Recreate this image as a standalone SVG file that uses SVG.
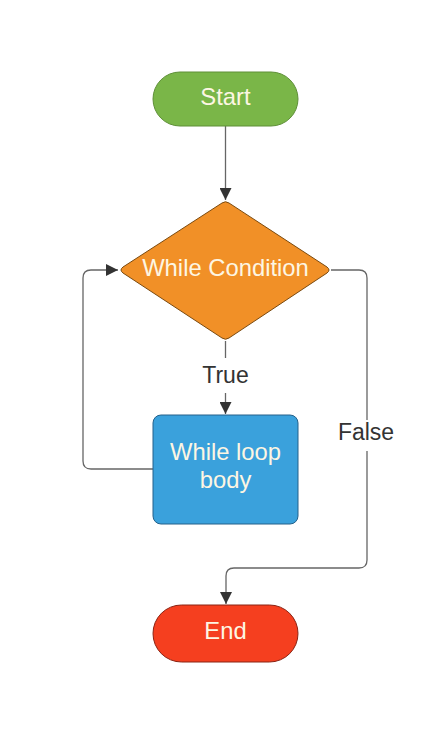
<svg xmlns="http://www.w3.org/2000/svg" width="447" height="729" viewBox="0 0 447 729">
<style>
.lbl{font-family:"Liberation Sans",Arial,sans-serif;font-size:23px;text-anchor:middle}
.w{fill:#fdf6e3;font-size:23.8px}
.k{fill:#333333}
.c{fill:none;stroke:#666666;stroke-width:1.3}
</style>
<defs>
<marker id="ah" viewBox="0 0 10 10" refX="10" refY="5" markerWidth="12" markerHeight="12" markerUnits="userSpaceOnUse" orient="auto">
<path d="M0,0 L10,5 L0,10 z" fill="#333333"/>
</marker>
</defs>
<rect width="447" height="729" fill="#ffffff"/>
<g id="connectors">
<path class="c" d="M225.5,126 V200" marker-end="url(#ah)"/>
<path class="c" d="M225.5,341 V358"/>
<path class="c" d="M225.5,393 V414" marker-end="url(#ah)"/>
<path class="c" d="M153,469 H91 Q83,469 83,461 V278 Q83,270 91,270 H118" marker-end="url(#ah)"/>
<path class="c" d="M331,270 H359 Q367,270 367,278 V420"/>
<path class="c" d="M367,451 V560 Q367,568 359,568 H234 Q226,568 226,576 V604" marker-end="url(#ah)"/>
<text class="lbl k" x="225.5" y="383">True</text>
<text class="lbl k" x="366" y="440">False</text>
</g>
<g id="start">
<rect x="153" y="72" width="145" height="54" rx="27" fill="#7ab648" stroke="#5e8f37" stroke-width="1"/>
<text class="lbl w" x="225.5" y="105">Start</text>
</g>
<g id="condition">
<path d="M222,203 Q225.5,200.5 229,203 L327,267 Q331,270 327,273 L229,338 Q225.5,340.5 222,338 L123,273 Q119,270 123,267 Z" fill="#f19027" stroke="#7a4a10" stroke-width="1"/>
<text class="lbl w" x="225.5" y="276">While Condition</text>
</g>
<g id="body">
<rect x="153" y="415" width="145" height="109" rx="8" fill="#3aa1dc" stroke="#24618a" stroke-width="1"/>
<text class="lbl w" x="225.5" y="460">While loop</text>
<text class="lbl w" x="225.5" y="488">body</text>
</g>
<g id="end">
<rect x="153" y="605" width="145" height="57" rx="28.5" fill="#f53f1f" stroke="#8a2414" stroke-width="1"/>
<text class="lbl w" x="225.5" y="639">End</text>
</g>
</svg>
